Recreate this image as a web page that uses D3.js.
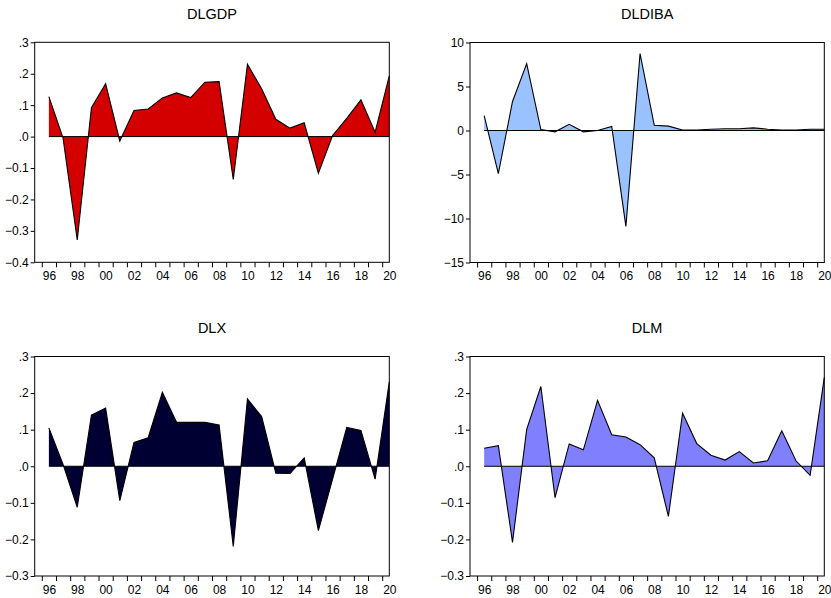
<!DOCTYPE html>
<html>
<head>
<meta charset="utf-8">
<script src="https://cdn.jsdelivr.net/npm/d3@7/dist/d3.min.js"></script>
<style>
  html, body { margin: 0; padding: 0; background: #fff; }
  svg { display: block; }
  text { font-family: "Liberation Sans", Arial, sans-serif; fill: #000; }
</style>
</head>
<body>
<svg id="chart" width="831" height="598"></svg>
<script>
// ---- data ----
const years = d3.range(1996, 2021);
const dlgdp = [0.127, -0.005, -0.329, 0.092, 0.168, -0.014, 0.083, 0.088, 0.123, 0.139, 0.124, 0.173, 0.175, -0.136, 0.230, 0.152, 0.055, 0.027, 0.044, -0.117, 0.003, 0.058, 0.117, 0.014, 0.193];
const dldiba = [1.7, -4.9, 3.3, 7.6, 0.1, -0.15, 0.7, -0.15, 0.0, 0.45, -10.9, 8.75, 0.6, 0.5, 0.05, 0.05, 0.15, 0.2, 0.2, 0.3, 0.15, 0.05, 0.05, 0.15, 0.15];
const dlx = [0.105, 0.005, -0.112, 0.140, 0.159, -0.094, 0.065, 0.078, 0.202, 0.120, 0.120, 0.120, 0.113, -0.219, 0.184, 0.136, -0.019, -0.020, 0.023, -0.176, -0.035, 0.106, 0.098, -0.035, 0.231];
const dlm = [0.049, 0.056, -0.208, 0.101, 0.218, -0.086, 0.061, 0.045, 0.180, 0.086, 0.080, 0.059, 0.023, -0.137, 0.145, 0.062, 0.030, 0.017, 0.040, 0.009, 0.015, 0.097, 0.015, -0.025, 0.243];
const labelYears = d3.range(1996, 2021, 2);
const ticksA = [-0.4, -0.3, -0.2, -0.1, 0.0, 0.1, 0.2, 0.3];
const ticksB = [-15, -10, -5, 0, 5, 10];
const ticksC = [-0.3, -0.2, -0.1, 0.0, 0.1, 0.2, 0.3];

const panels = [
  { title: "DLGDP",  values: dlgdp,  domain: [-0.4, 0.3], ticks: ticksA, fmt: "dec", fill: "#d40000",
    box: { l: 34.7, r: 389.3, t: 42.3, b: 262.3 }, titleY: 19.3 },
  { title: "DLDIBA", values: dldiba, domain: [-15, 10],   ticks: ticksB, fmt: "int", fill: "#99c2ff",
    box: { l: 470, r: 824.3, t: 42.5, b: 262.5 }, titleY: 19.3 },
  { title: "DLX",    values: dlx,    domain: [-0.3, 0.3], ticks: ticksC, fmt: "dec", fill: "#000033",
    box: { l: 34.7, r: 389.3, t: 356.5, b: 576 }, titleY: 333 },
  { title: "DLM",    values: dlm,    domain: [-0.3, 0.3], ticks: ticksC, fmt: "dec", fill: "#8080ff",
    box: { l: 470, r: 824.3, t: 356.5, b: 576 }, titleY: 333 }
];

const svg = d3.select("#chart");

function fmtDec(v) {
  let s = d3.format(".1f")(Math.abs(v) < 1e-9 ? 0 : v);
  s = s.replace(/^(-?)0\./, "$1.");
  return s;
}

panels.forEach(p => {
  const g = svg.append("g");
  const x = d3.scaleLinear().domain([1995, 2020]).range([p.box.l, p.box.r]);
  const y = d3.scaleLinear().domain(p.domain).range([p.box.b, p.box.t]);
  const data = years.map((yr, i) => ({ yr, v: p.values[i] }));

  // title
  g.append("text")
    .attr("x", (p.box.l + p.box.r) / 2)
    .attr("y", p.titleY)
    .attr("text-anchor", "middle")
    .style("font-size", "14.5px")
    .text(p.title);

  // area fill
  const area = d3.area()
    .x(d => x(d.yr))
    .y0(y(0))
    .y1(d => y(d.v));
  g.append("path")
    .datum(data)
    .attr("d", area)
    .attr("fill", p.fill)
    .attr("stroke", "none");

  // zero line
  g.append("line")
    .attr("x1", x(1996)).attr("x2", x(2020))
    .attr("y1", y(0)).attr("y2", y(0))
    .attr("stroke", "#000").attr("stroke-width", 1);

  // series line
  const line = d3.line().x(d => x(d.yr)).y(d => y(d.v));
  g.append("path")
    .datum(data)
    .attr("d", line)
    .attr("fill", "none")
    .attr("stroke", "#000")
    .attr("stroke-width", 1.1)
    .attr("stroke-linejoin", "miter");

  // y axis
  const yAxis = d3.axisLeft(y)
    .tickValues(p.ticks)
    .tickSize(4)
    .tickPadding(2)
    .tickFormat(p.fmt === "dec" ? fmtDec : d3.format("d"));
  const ya = g.append("g")
    .attr("transform", `translate(${p.box.l},0)`)
    .call(yAxis);
  ya.select(".domain").remove();
  ya.selectAll("text").style("font-size", "12px").attr("fill", "#000");
  ya.selectAll("line").attr("stroke", "#000");

  // x axis: tick marks at year boundaries
  const xTicks = d3.axisBottom(x)
    .tickValues(years.map(yr => yr - 0.5))
    .tickSize(5)
    .tickFormat("");
  const xa = g.append("g")
    .attr("transform", `translate(0,${p.box.b})`)
    .call(xTicks);
  xa.select(".domain").remove();
  xa.selectAll("line").attr("stroke", "#000");

  // x labels at year centres
  const xLabels = d3.axisBottom(x)
    .tickValues(labelYears)
    .tickSize(0)
    .tickPadding(9)
    .tickFormat(yr => String(yr % 100).padStart(2, "0"));
  const xl = g.append("g")
    .attr("transform", `translate(0,${p.box.b})`)
    .call(xLabels);
  xl.select(".domain").remove();
  xl.selectAll("text").style("font-size", "12px").attr("fill", "#000");

  // frame
  g.append("rect")
    .attr("x", p.box.l).attr("y", p.box.t)
    .attr("width", p.box.r - p.box.l)
    .attr("height", p.box.b - p.box.t)
    .attr("fill", "none")
    .attr("stroke", "#000")
    .attr("stroke-width", 1);
});
</script>
</body>
</html>
